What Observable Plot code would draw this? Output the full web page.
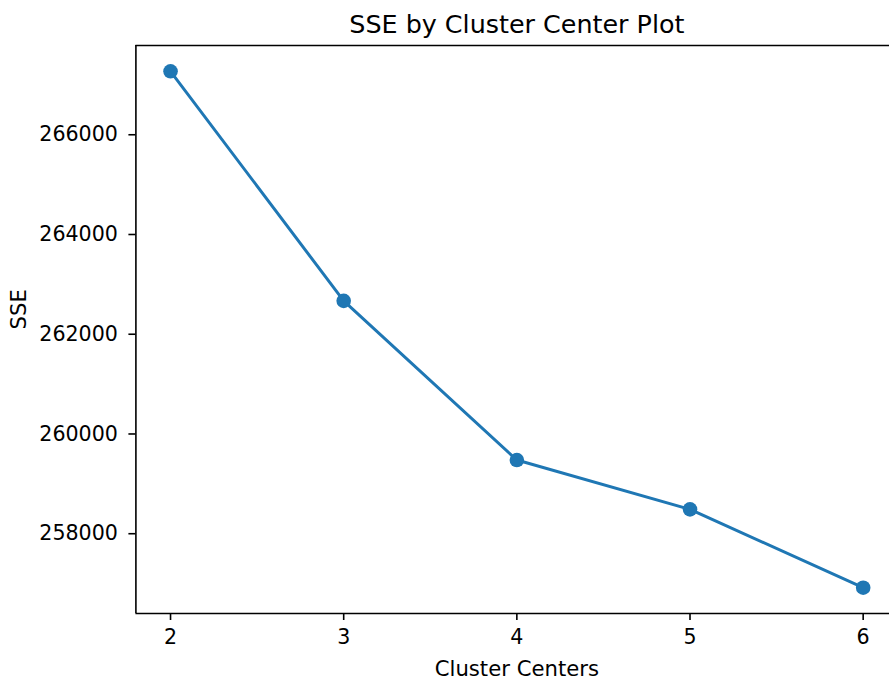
<!DOCTYPE html>
<html>
<head>
<meta charset="utf-8">
<script src="https://cdn.jsdelivr.net/npm/d3@7"></script>
<script src="https://cdn.jsdelivr.net/npm/@observablehq/plot@0.6"></script>
<style>
  html, body { margin: 0; padding: 0; background: white; overflow: hidden; color: black; }
  svg { overflow: hidden !important; display: block; }
</style>
</head>
<body>
<div id="chart"></div>
<script>
// Data
const clusterCenters = [2, 3, 4, 5, 6];
const sseValues = [267272, 262669, 259477, 258489, 256918];
const xTicks = [2, 3, 4, 5, 6];
const yTicks = [258000, 260000, 262000, 264000, 266000];
const titleText = "SSE by Cluster Center Plot";
const xLabel = "Cluster Centers";
const yLabel = "SSE";

const data = clusterCenters.map((c, i) => ({c, sse: sseValues[i]}));

// matplotlib-like 5% margins
const xMin = d3.min(clusterCenters), xMax = d3.max(clusterCenters);
const xPad = (xMax - xMin) * 0.05;
const xDomain = [xMin - xPad, xMax + xPad];
const yMin = d3.min(sseValues), yMax = d3.max(sseValues);
const yPad = (yMax - yMin) * 0.05;
const yDomain = [yMin - yPad, yMax + yPad];

const color = "#1f77b4";
const fs = 20.6;

const chart = Plot.plot({
  width: 889,
  height: 680,
  marginLeft: 135.4,
  marginRight: 0,
  marginTop: 45,
  marginBottom: 67,
  style: {fontFamily: "DejaVu Sans", fontSize: fs + "px", background: "white", color: "black"},
  x: {domain: xDomain, range: [135.4, 897.3]},
  y: {domain: yDomain},
  marks: [
    Plot.line(data, {x: "c", y: "sse", stroke: color, strokeWidth: 3}),
    Plot.dot(data, {x: "c", y: "sse", r: 7.3, fill: color, stroke: "none"}),
    // spines (left, bottom, top)
    Plot.ruleX([xDomain[0]], {y1: yDomain[0], y2: yDomain[1], stroke: "black", strokeWidth: 1.6}),
    Plot.ruleY([yDomain[0], yDomain[1]], {x1: xDomain[0], x2: xDomain[1], stroke: "black", strokeWidth: 1.6}),
    Plot.axisX(xTicks, {tickSize: 7, tickPadding: 8.5, strokeWidth: 1.6, stroke: "black", fill: "black",
      fontSize: fs, label: null, tickFormat: d => String(d)}),
    Plot.axisY(yTicks, {tickSize: 7, tickPadding: 11, strokeWidth: 1.6, stroke: "black", fill: "black",
      fontSize: fs, label: null, tickFormat: d => String(d)}),
    Plot.text([titleText], {x: (xDomain[0] + xDomain[1]) / 2, frameAnchor: "top", lineAnchor: "middle",
      dy: -21, fontSize: 25.4, fill: "black"}),
    Plot.text([xLabel], {x: (xDomain[0] + xDomain[1]) / 2, frameAnchor: "bottom", lineAnchor: "middle",
      dy: 55.3, fontSize: 21.2, fill: "black"}),
    Plot.text([yLabel], {frameAnchor: "left", lineAnchor: "middle", rotate: -90, dx: -116.4,
      fontSize: 21.2, fill: "black"})
  ]
});
document.getElementById("chart").appendChild(chart);
</script>
</body>
</html>
